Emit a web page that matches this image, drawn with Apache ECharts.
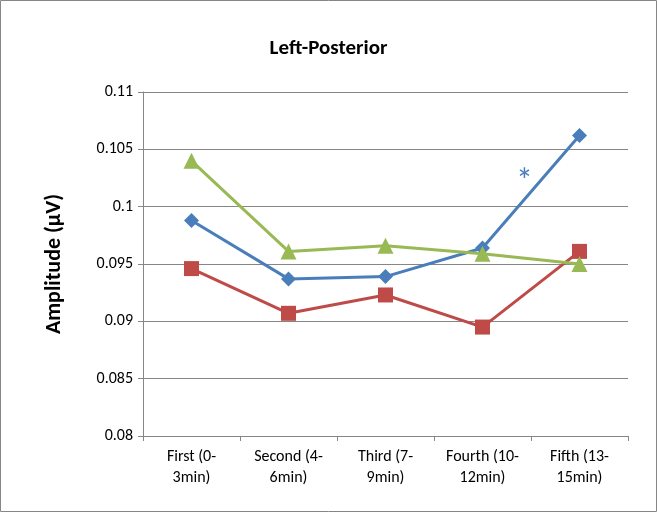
<!DOCTYPE html>
<html>
<head>
<meta charset="utf-8">
<script src="https://cdn.jsdelivr.net/npm/echarts@6/dist/echarts.min.js"></script>
<style>
html,body{margin:0;padding:0;background:#fff;}
#chart{width:657px;height:512px;}
</style>
</head>
<body>
<div id="chart"></div>
<script>
var categories=['First (0-\n3min)','Second (4-\n6min)','Third (7-\n9min)','Fourth (10-\n12min)','Fifth (13-\n15min)'];
var blueVals=[0.0988,0.0937,0.0939,0.0964,0.1062];
var redVals=[0.0946,0.0907,0.0923,0.0895,0.0961];
var greenVals=[0.1040,0.0961,0.0966,0.0959,0.0950];

var chart=echarts.init(document.getElementById('chart'));
var font='Carlito, Calibri, "Liberation Sans", sans-serif';
chart.setOption({
    animation:false,
    title:{text:'Left-Posterior',left:'center',top:33,textStyle:{fontFamily:font,fontSize:21,fontWeight:'bold',color:'#000'}},
    grid:{left:143,right:29,top:92,bottom:76},
    xAxis:{type:'category',data:categories,boundaryGap:true,
        axisLine:{lineStyle:{color:'#868686'}},axisTick:{show:true,lineStyle:{color:'#868686'}},
        axisLabel:{fontFamily:font,fontSize:16,color:'#000',lineHeight:21,margin:10}},
    yAxis:{type:'value',min:0.08,max:0.11,interval:0.005,
        name:'Amplitude (µV)',nameLocation:'middle',nameGap:78,
        nameTextStyle:{fontFamily:font,fontSize:22,fontWeight:'bold',color:'#000'},
        axisLine:{show:true,lineStyle:{color:'#868686'}},axisTick:{show:true,lineStyle:{color:'#868686'}},
        splitLine:{lineStyle:{color:'#868686'}},
        axisLabel:{fontFamily:font,fontSize:16,color:'#000',margin:10}},
    series:[
        {type:'line',data:blueVals,symbol:'diamond',symbolSize:15,lineStyle:{color:'#4a7ebb',width:3},itemStyle:{color:'#4a7ebb'}},
        {type:'line',data:redVals,symbol:'rect',symbolSize:15,lineStyle:{color:'#be4b48',width:3},itemStyle:{color:'#be4b48'}},
        {type:'line',data:greenVals,symbol:'triangle',symbolSize:16,lineStyle:{color:'#98b954',width:3},itemStyle:{color:'#98b954'}}
    ],
    graphic:[
        {type:'text',left:516,top:166,style:{text:'*',fontFamily:font,fontSize:34,fill:'#4a7ebb'}},
        {type:'rect',shape:{x:0.5,y:0.5,width:656,height:511},style:{fill:'none',stroke:'#868686',lineWidth:1}}
    ]
});
</script>
</body>
</html>
